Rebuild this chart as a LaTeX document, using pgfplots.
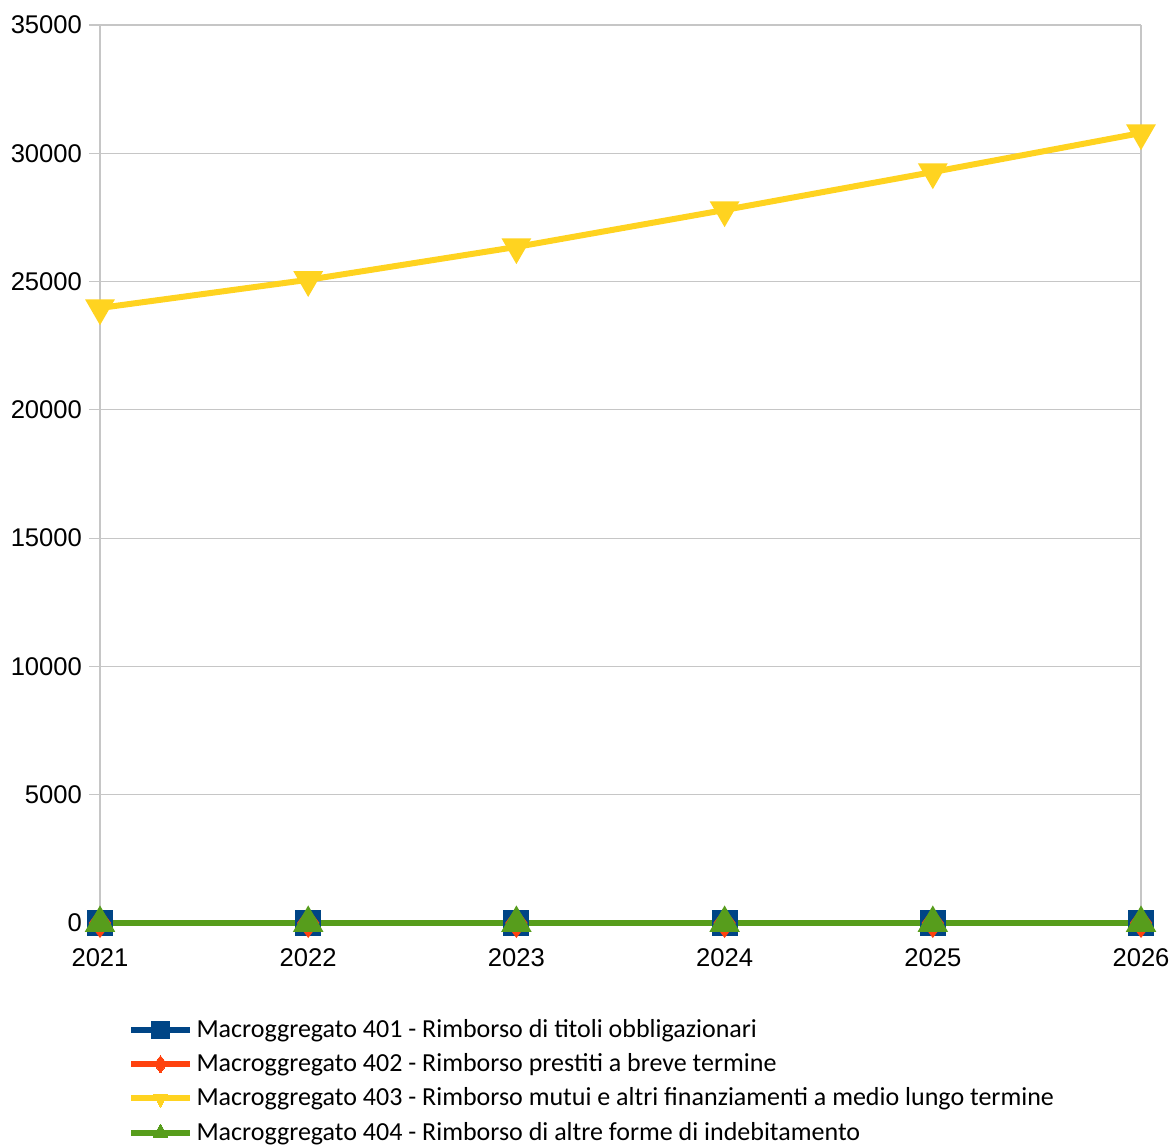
\documentclass[border=0pt]{standalone}
\usepackage{pgfplots}
\pgfplotsset{compat=1.18}
\usepackage{fontspec}
\setmainfont{Carlito}
\newfontfamily\arial{Liberation Sans}

\definecolor{c401}{HTML}{004586}
\definecolor{c402}{HTML}{FF420E}
\definecolor{c403}{HTML}{FFD320}
\definecolor{c404}{HTML}{579D1C}

\begin{document}
\begin{tikzpicture}
\begin{axis}[
  name=ax,
  scale only axis,
  width=520.5pt, height=449pt,
  xmin=2021, xmax=2026, ymin=0, ymax=35000,
  xtick={2021,2022,2023,2024,2025,2026},
  ytick distance=5000,
  scaled ticks=false,
  /pgf/number format/assume math mode=true,
  /pgf/number format/1000 sep={},
  ticklabel style={font=\arial\fontsize{12.8}{14}\selectfont},
  xticklabel style={yshift=-4pt},
  yticklabel style={xshift=0pt},
  ymajorgrids, grid style={gray!45, line width=0.6pt},
  axis line style={gray!45, line width=0.6pt},
  axis x line*=bottom, axis y line*=left,
  ytick style={gray!45, line width=0.6pt},
  major tick length=5.5pt,
  xtick style={draw=none},
  tick align=outside,
  clip=false,
  legend style={at={(rel axis cs:0.027,0)}, anchor=north west, yshift=-46pt,
    draw=none, font=\fontsize{13}{15}\selectfont, row sep=2.6pt,
    legend cell align=left, inner sep=0pt},
  legend image code/.code={
    \draw[#1, mark=none] (0pt,0pt) -- (29pt,0pt);
    \draw[#1, line width=0pt, mark size=4.3pt] plot coordinates {(14.5pt,0pt)};
  },
]
\draw[gray!45, line width=0.6pt] (rel axis cs:1,0) -- (rel axis cs:1,1);
\addplot[c401, line width=3pt, mark=square*, mark size=5pt, mark options={solid}]
  coordinates {(2021,0) (2022,0) (2023,0) (2024,0) (2025,0) (2026,0)};
\addlegendentry{Macroggregato 401 - Rimborso di titoli obbligazionari}
\addplot[c402, line width=3pt, mark=diamond*, mark size=5pt]
  coordinates {(2021,0) (2022,0) (2023,0) (2024,0) (2025,0) (2026,0)};
\addlegendentry{Macroggregato 402 - Rimborso prestiti a breve termine}
\addplot[c403, line width=3pt, mark=triangle*, mark size=5.6pt, mark options={rotate=180}]
  coordinates {(2021,23970) (2022,25070) (2023,26350) (2024,27790) (2025,29270) (2026,30790)};
\addlegendentry{Macroggregato 403 - Rimborso mutui e altri finanziamenti a medio lungo termine}
\addplot[c404, line width=3pt, mark=triangle*, mark size=5.8pt]
  coordinates {(2021,0) (2022,0) (2023,0) (2024,0) (2025,0) (2026,0)};
\addlegendentry{Macroggregato 404 - Rimborso di altre forme di indebitamento}
\end{axis}
\pgfresetboundingbox
\useasboundingbox ([xshift=-50pt,yshift=-111.5pt]ax.south west) rectangle ([xshift=16.5pt,yshift=12.5pt]ax.north east);
\end{tikzpicture}
\end{document}
